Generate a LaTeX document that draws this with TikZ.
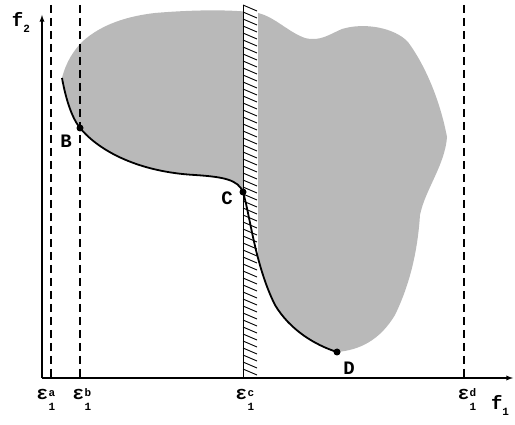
\documentclass[tikz,border=0pt]{standalone}
\usepackage{fontspec}
\setmainfont{Liberation Mono}
\newcommand{\skript}{\fontsize{11pt}{11pt}\selectfont}
\newcommand{\epsl}[1]{ε\kern0.5pt\raisebox{-1.1ex}{\vbox{\skript\baselineskip=14pt\hbox{#1}\hbox{1}}}}
\begin{document}
\begin{tikzpicture}[
		x=1pt, y=-1pt,
		every node/.style={font=\fontsize{19pt}{21pt}\selectfont\bfseries},
		grenze/.style={line width=1.2pt, dash pattern=on 8pt off 5pt},
		punkt/.style={circle, fill=black, inner sep=0pt, minimum size=7pt}
		]
		\useasboundingbox (0,0) rectangle (515,425);
		
		% zulaessiger Bereich
		\fill [gray!55] (62,78) .. controls (66,62) and (74,50) .. (82,42)
			.. controls (97,28) and (120,17) .. (155,13)
			.. controls (190,10) and (230,9) .. (258,13)
			.. controls (275,17) and (288,32) .. (305,38)
			.. controls (320,42) and (330,34) .. (342,29)
			.. controls (365,22) and (395,28) .. (408,42)
			.. controls (425,65) and (440,100) .. (447,137)
			.. controls (445,165) and (425,190) .. (420,215)
			.. controls (418,245) and (412,280) .. (395,315)
			.. controls (380,340) and (360,350) .. (337,352)
			.. controls (315,345) and (290,330) .. (275,305)
			.. controls (255,265) and (250,215) .. (243,192)
			.. controls (238,180) and (225,177) .. (195,175)
			.. controls (140,172) and (100,152) .. (80,128)
			.. controls (72,118) and (66,100) .. (62,78) -- cycle;
		
		% Schranken
		\draw [grenze] (51,5) -- (51,378);
		\draw [grenze] (80,5) -- (80,378);
		\draw [grenze] (464,5) -- (464,378);
		\fill [white] (243,5) rectangle (258,378);
		\draw [line width=1pt] (243,5) -- (243,378);
		\foreach \y in {5,12,...,372}
			\draw [line width=0.9pt] (243,\y) -- (257,\y+6);
		
		% Achsen
		\draw [line width=1.3pt, -latex] (42,378) -- (42,15);
		\draw [line width=1.3pt, -latex] (42,378) -- (513,378);
		
		% Pareto-Front
		\draw [line width=1.8pt] (62,78) .. controls (66,100) and (72,118) .. (80,128)
			.. controls (100,152) and (140,172) .. (195,175)
			.. controls (225,177) and (238,180) .. (243,192)
			.. controls (250,215) and (255,265) .. (275,305)
			.. controls (290,330) and (315,345) .. (337,352);
		\node [punkt] (B) at (80,128) {};
		\node [punkt] (C) at (243,192) {};
		\node [punkt] (D) at (337,352) {};
		\node (lb) at (66,141) {B};
		\node (lc) at (227,198) {C};
		\node (ld) at (349,368) {D};
		
		% Beschriftung
		\node (f2) at (21,22) {f\raisebox{-0.6ex}{\skript 2}};
		\node (f1) at (500,405) {f\raisebox{-0.6ex}{\skript 1}};
		\node (ea) at (46,400) {\epsl{a}};
		\node (eb) at (82,400) {\epsl{b}};
		\node (ec) at (245,400) {\epsl{c}};
		\node (ed) at (467,400) {\epsl{d}};
		
	\end{tikzpicture}
\end{document}
